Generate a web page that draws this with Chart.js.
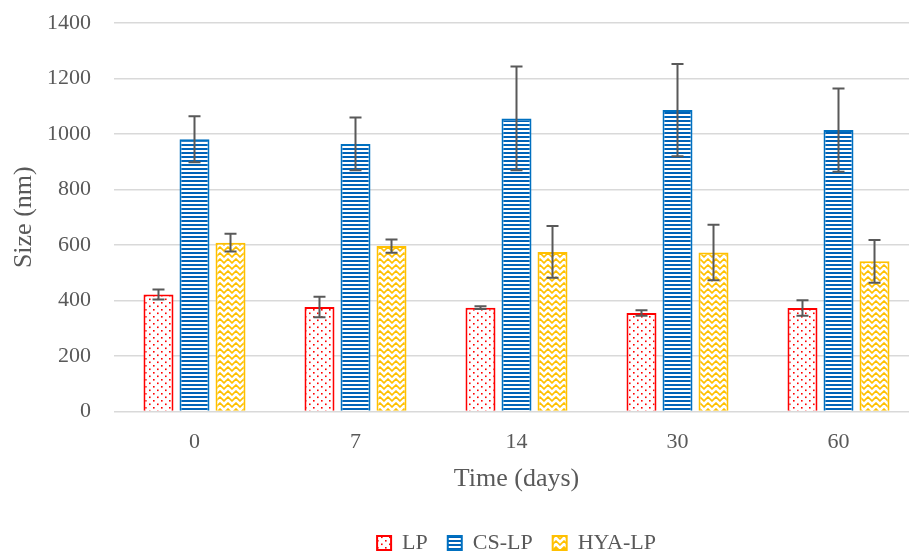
<!DOCTYPE html>
<html>
<head>
<meta charset="utf-8">
<script src="https://cdn.jsdelivr.net/npm/chart.js@4.4.0/dist/chart.umd.min.js"></script>
<style>
html,body{margin:0;padding:0;overflow:hidden;background:#fff;}
#wrap{width:1033px;height:564px;}
</style>
</head>
<body>
<div id="wrap"><canvas id="c" width="1033" height="564"></canvas></div>
<script>
const categories = ['0', '7', '14', '30', '60'];
const seriesNames = ['LP', 'CS-LP', 'HYA-LP'];
const lpValues = [421, 376, 374, 355, 373];
const lpErrors = [18, 37, 5, 10, 28];
const csValues = [981, 964, 1056, 1086, 1014];
const csErrors = [83, 95, 187, 166, 150];
const hyaValues = [608, 596, 575, 573, 541];
const hyaErrors = [32, 24, 93, 100, 77];
const yTicks = [0, 200, 400, 600, 800, 1000, 1200, 1400];

function makeTile(w, h, draw) {
  const c = document.createElement('canvas');
  c.width = w; c.height = h;
  const x = c.getContext('2d');
  x.fillStyle = '#ffffff';
  x.fillRect(0, 0, w, h);
  draw(x);
  return document.getElementById('c').getContext('2d').createPattern(c, 'repeat');
}
const dotPattern = makeTile(8, 7, x => {
  x.fillStyle = '#ff0000';
  x.fillRect(1, 1, 1.6, 1.6);
  x.fillRect(5, 4.5, 1.6, 1.6);
});
const linePattern = makeTile(4, 4, x => {
  x.fillStyle = '#0063b8';
  x.fillRect(0, 0, 4, 2);
});
const zigPattern = makeTile(8, 6, x => {
  x.strokeStyle = '#ffc000';
  x.lineWidth = 1.6;
  x.beginPath();
  x.moveTo(-1, 6); x.lineTo(4, 1); x.lineTo(9, 6);
  x.moveTo(-1, 0); x.lineTo(0, -1);
  x.moveTo(8, -1); x.lineTo(9, 0);
  x.stroke();
});

const errorBarPlugin = {
  id: 'errorBars',
  afterDatasetsDraw(chart) {
    const ctx = chart.ctx;
    const y = chart.scales.y;
    ctx.save();
    ctx.strokeStyle = '#595959';
    ctx.lineWidth = 2;
    chart.data.datasets.forEach((ds, i) => {
      const meta = chart.getDatasetMeta(i);
      meta.data.forEach((bar, j) => {
        const v = ds.data[j], e = ds.errors[j];
        const top = y.getPixelForValue(v + e);
        const bot = y.getPixelForValue(v - e);
        const x = bar.x;
        ctx.beginPath();
        ctx.moveTo(x, top); ctx.lineTo(x, bot);
        ctx.moveTo(x - 6, top); ctx.lineTo(x + 6, top);
        ctx.moveTo(x - 6, bot); ctx.lineTo(x + 6, bot);
        ctx.stroke();
      });
    });
    ctx.restore();
  }
};

const font = 'Liberation Serif, "Times New Roman", serif';
const textColor = '#595959';

new Chart(document.getElementById('c'), {
  type: 'bar',
  data: {
    labels: categories,
    datasets: [
      { label: seriesNames[0], data: lpValues, errors: lpErrors, backgroundColor: dotPattern, borderColor: '#ff0000', borderWidth: 2 },
      { label: seriesNames[1], data: csValues, errors: csErrors, backgroundColor: linePattern, borderColor: '#0070c0', borderWidth: 2 },
      { label: seriesNames[2], data: hyaValues, errors: hyaErrors, backgroundColor: zigPattern, borderColor: '#ffc000', borderWidth: 2 }
    ]
  },
  options: {
    responsive: false,
    animation: false,
    devicePixelRatio: 1,
    categoryPercentage: 0.671,
    barPercentage: 0.833,
    layout: { padding: { top: 23, left: 0, right: 0, bottom: 0 } },
    plugins: {
      legend: {
        position: 'bottom',
        labels: {
          font: { family: font, size: 22 },
          color: textColor,
          boxWidth: 14,
          boxHeight: 14,
          padding: 20
        }
      },
      tooltip: { enabled: false }
    },
    scales: {
      x: {
        grid: { display: false, drawTicks: false },
        border: { display: false },
        ticks: { font: { family: font, size: 22 }, color: textColor, padding: 18 },
        title: { display: true, text: 'Time (days)', font: { family: font, size: 26 }, color: textColor, padding: { top: -10, bottom: 17 } }
      },
      y: {
        min: 0, max: 1400,
        afterBuildTicks(s) { s.ticks = yTicks.map(v => ({ value: v })); },
        afterFit(s) { s.width = 114; s.paddingTop = 13; s.paddingBottom = 13; },
        grid: { color: '#d9d9d9', lineWidth: 1.5, drawTicks: false },
        border: { display: false },
        ticks: { font: { family: font, size: 22 }, color: textColor, padding: 23, callback: v => String(v) },
        title: { display: true, text: 'Size (nm)', font: { family: font, size: 26 }, color: textColor, padding: { top: 9, bottom: 0 } }
      },
      y2: {
        position: 'right',
        display: true,
        grid: { display: false, drawTicks: false },
        border: { display: false },
        ticks: { display: false },
        afterFit(s) { s.width = 114; s.paddingTop = 0; s.paddingBottom = 0; }
      }
    }
  },
  plugins: [errorBarPlugin]
});
</script>
</body>
</html>
